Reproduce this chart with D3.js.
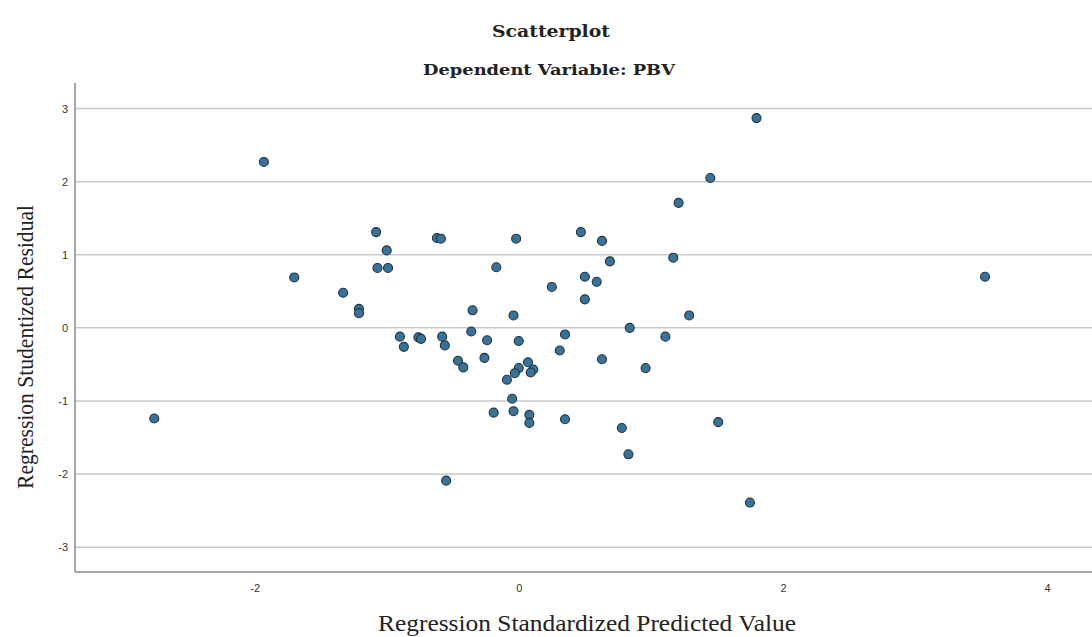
<!DOCTYPE html>
<html>
<head>
<meta charset="utf-8">
<script src="https://cdn.jsdelivr.net/npm/d3@7"></script>
<style>
  html, body { margin: 0; padding: 0; background: #fff; }
  svg { display: block; }
</style>
</head>
<body>
<svg id="chart" width="1092" height="637"></svg>
<script>
// Regression Standardized Predicted Value
const predicted = [
  -1.93, 1.80, 1.45, 1.21, -2.76, -1.70, -1.08, -1.00, -1.07, -0.99,
  -1.33, -1.21, -1.21, -0.62, -0.59, -0.02, 0.47, 0.63, 0.69, -0.17,
  0.50, 0.59, 0.25, 0.50, -0.35, -0.04, 0.84, -0.90, -0.87, -0.76,
  -0.74, -0.58, -0.56, -0.36, -0.24, 0.00, 0.35, 0.31, -0.46, -0.42,
  -0.26, 0.63, 0.07, 0.00, 0.11, 0.09, -0.03, -0.09, -0.05, -0.19,
  -0.04, 0.08, 0.08, 0.35, 0.78, 0.83, 1.17, 3.53, 1.29, 1.11,
  0.96, 1.51, -0.55, 1.75
];
// Regression Studentized Residual
const residual = [
  2.27, 2.87, 2.05, 1.71, -1.24, 0.69, 1.31, 1.06, 0.82, 0.82,
  0.48, 0.26, 0.20, 1.23, 1.22, 1.22, 1.31, 1.19, 0.91, 0.83,
  0.70, 0.63, 0.56, 0.39, 0.24, 0.17, 0.00, -0.12, -0.26, -0.13,
  -0.15, -0.12, -0.24, -0.05, -0.17, -0.18, -0.09, -0.31, -0.45, -0.54,
  -0.41, -0.43, -0.47, -0.55, -0.57, -0.61, -0.62, -0.71, -0.97, -1.16,
  -1.14, -1.19, -1.30, -1.25, -1.37, -1.73, 0.96, 0.70, 0.17, -0.12,
  -0.55, -1.29, -2.09, -2.39
];
const xTicks = [-2, 0, 2, 4];
const yTicks = [-3, -2, -1, 0, 1, 2, 3];
const titleText = "Scatterplot";
const subtitleText = "Dependent Variable: PBV";
const xTitle = "Regression Standardized Predicted Value";
const yTitle = "Regression Studentized Residual";

const svg = d3.select("#chart");
const plot = { left: 75, right: 1092, top: 83, bottom: 572 };

const x = d3.scaleLinear().domain([-3.36, 4.34]).range([plot.left, plot.right]);
const y = d3.scaleLinear().domain([-3.34, 3.35]).range([plot.bottom, plot.top]);

// gridlines
svg.append("g")
  .selectAll("line")
  .data(yTicks)
  .join("line")
  .attr("x1", plot.left).attr("x2", plot.right)
  .attr("y1", d => y(d)).attr("y2", d => y(d))
  .attr("stroke", "#c9c9c9").attr("stroke-width", 1.5);

// axes
const yAxis = d3.axisLeft(y).tickValues(yTicks).tickSize(0).tickPadding(7).tickFormat(d => String(d));
const xAxis = d3.axisBottom(x).tickValues(xTicks).tickSize(0).tickPadding(12).tickFormat(d => String(d));

const gy = svg.append("g").attr("transform", `translate(${plot.left},0)`).call(yAxis);
const gx = svg.append("g").attr("transform", `translate(0,${plot.bottom})`).call(xAxis);
[gx, gy].forEach(g => {
  g.select(".domain").remove();
  g.selectAll("text")
    .attr("font-family", "'Liberation Sans', Arial, sans-serif")
    .attr("font-size", 11)
    .attr("fill", "#333");
});

svg.append("line")
  .attr("x1", plot.left).attr("x2", plot.left)
  .attr("y1", plot.top).attr("y2", plot.bottom)
  .attr("stroke", "#8a8a8a").attr("stroke-width", 1.5);
svg.append("line")
  .attr("x1", plot.left).attr("x2", plot.right)
  .attr("y1", plot.bottom).attr("y2", plot.bottom)
  .attr("stroke", "#8a8a8a").attr("stroke-width", 1.5);

// points
const pts = predicted.map((v, i) => ({ px: v, r: residual[i] }));
svg.append("g")
  .selectAll("circle")
  .data(pts)
  .join("circle")
  .attr("cx", d => x(d.px))
  .attr("cy", d => y(d.r))
  .attr("r", 4.5)
  .attr("fill", "#3a7196")
  .attr("stroke", "#1d3345")
  .attr("stroke-width", 1.1);

// titles
svg.append("text")
  .attr("x", 551).attr("y", 37)
  .attr("text-anchor", "middle")
  .attr("font-family", "'DejaVu Serif', serif")
  .attr("font-weight", "bold")
  .attr("font-size", 17)
  .attr("textLength", 118).attr("lengthAdjust", "spacingAndGlyphs")
  .attr("fill", "#222")
  .text(titleText);

svg.append("text")
  .attr("x", 549).attr("y", 75)
  .attr("text-anchor", "middle")
  .attr("font-family", "'DejaVu Serif', serif")
  .attr("font-weight", "bold")
  .attr("font-size", 15)
  .attr("textLength", 252).attr("lengthAdjust", "spacingAndGlyphs")
  .attr("fill", "#222")
  .text(subtitleText);

svg.append("text")
  .attr("x", 587).attr("y", 631)
  .attr("text-anchor", "middle")
  .attr("font-family", "'Liberation Serif', 'Times New Roman', serif")
  .attr("font-size", 23)
  .attr("textLength", 418).attr("lengthAdjust", "spacingAndGlyphs")
  .attr("fill", "#222")
  .text(xTitle);

svg.append("text")
  .attr("transform", "translate(33,347) rotate(-90)")
  .attr("text-anchor", "middle")
  .attr("font-family", "'Liberation Serif', 'Times New Roman', serif")
  .attr("font-size", 23)
  .attr("textLength", 284).attr("lengthAdjust", "spacingAndGlyphs")
  .attr("fill", "#222")
  .text(yTitle);
</script>
</body>
</html>
